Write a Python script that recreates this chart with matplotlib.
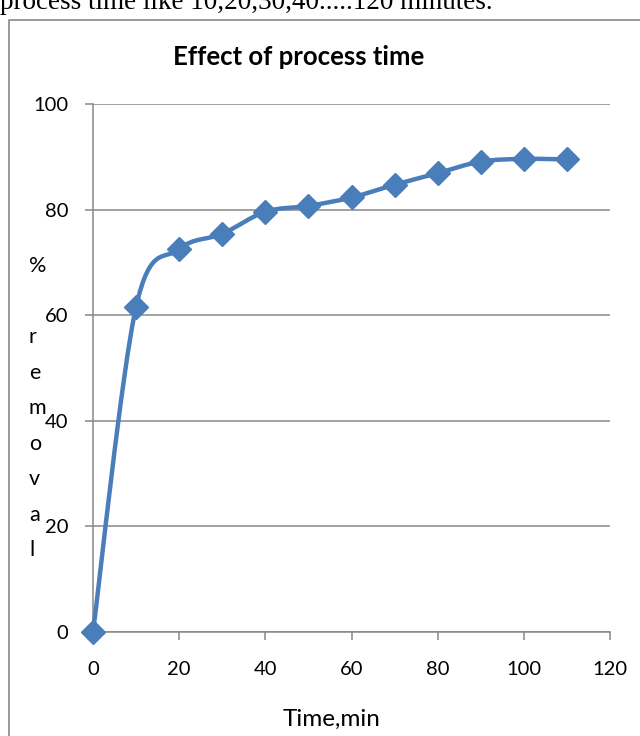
import matplotlib.pyplot as plt
from matplotlib.path import Path
from matplotlib.patches import PathPatch
from matplotlib.lines import Line2D

time_min = [0, 10, 20, 30, 40, 50, 60, 70, 80, 90, 100, 110]
removal = [0, 61.6, 72.5, 75.4, 79.6, 80.7, 82.3, 84.7, 86.9, 89.1, 89.6, 89.5]
x_ticks = [0, 20, 40, 60, 80, 100, 120]
y_ticks = [0, 20, 40, 60, 80, 100]

blue = '#4a7ebb'
grey = '#878787'
plt.rcParams['font.family'] = ['Lato', 'DejaVu Sans']

fig = plt.figure(figsize=(6.4, 7.36), dpi=100)
ax = fig.add_axes([93/640, 1 - 632/736, 517/640, 528/736])

# smooth line like excel (catmull-rom bezier through the points)
verts = [(time_min[0], removal[0])]
codes = [Path.MOVETO]
n = len(time_min)
for i in range(n - 1):
    p0 = (time_min[max(i - 1, 0)], removal[max(i - 1, 0)])
    p1 = (time_min[i], removal[i])
    p2 = (time_min[i + 1], removal[i + 1])
    p3 = (time_min[min(i + 2, n - 1)], removal[min(i + 2, n - 1)])
    c1 = (p1[0] + (p2[0] - p0[0]) / 6, p1[1] + (p2[1] - p0[1]) / 6)
    c2 = (p2[0] - (p3[0] - p1[0]) / 6, p2[1] - (p3[1] - p1[1]) / 6)
    verts += [c1, c2, p2]
    codes += [Path.CURVE4] * 3
ax.add_patch(PathPatch(Path(verts, codes), facecolor='none', edgecolor=blue,
                       lw=3.2, zorder=3, clip_on=False))
ax.plot(time_min, removal, linestyle='none', marker='D', markersize=12,
        color=blue, zorder=4, clip_on=False)

ax.set_xlim(0, 120)
ax.set_ylim(0, 100)
ax.set_xticks(x_ticks)
ax.set_yticks(y_ticks)
ax.grid(axis='y', color=grey, lw=1.1)
ax.set_axisbelow(True)
for s in ['top', 'right']:
    ax.spines[s].set_visible(False)
for s in ['left', 'bottom']:
    ax.spines[s].set_color(grey)
    ax.spines[s].set_linewidth(1.1)
ax.tick_params(axis='both', color=grey, length=6, width=1.1, labelsize=14.5,
               labelcolor='black')
ax.tick_params(axis='x', pad=15)
ax.tick_params(axis='y', pad=12)

ax.set_title('Effect of process time', fontsize=18.5, fontweight='bold',
             pad=28, x=0.398)
ax.set_xlabel('Time,min', fontsize=17.5, labelpad=22, x=0.462)
fig.text(29/640, 1 - 256/736, '%\n\nr\ne\nm\no\nv\na\nl', fontsize=15.5,
         va='top', ha='left', linespacing=1.97)

# text from the page above the chart and the chart border
fig.text(0, 1 - 9/736, 'process time like 10,20,30,40.....120 minutes.',
         family='Liberation Serif', fontsize=19.5, va='baseline')
fig.add_artist(Line2D([8.5/640, 8.5/640, 1], [0, 1 - 20/736, 1 - 20/736],
                      transform=fig.transFigure, color=grey, lw=1.2))

plt.savefig('out.png', dpi=100)
